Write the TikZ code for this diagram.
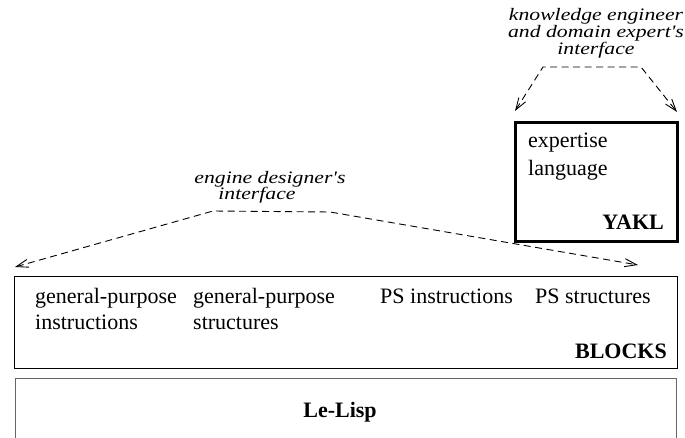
\documentclass[tikz,border=0pt]{standalone}
\usepackage{fontspec}
\setmainfont{Liberation Serif}
\newfontfamily\notefont[FakeStretch=1.24]{Liberation Serif}
\usetikzlibrary{arrows.meta}
\begin{document}
\begin{tikzpicture}[x=1pt,y=-1pt,
  box/.style={draw, line width=1.3pt, inner sep=0pt, anchor=north west},
  txt/.style={inner sep=0pt, anchor=base west, font=\fontsize{22}{26}\selectfont},
  ttl/.style={inner sep=0pt, font=\fontsize{22}{26}\selectfont\bfseries},
  note/.style={inner sep=0pt, font=\notefont\itshape\fontsize{17.5}{15}\selectfont},
  iface/.style={dash pattern=on 7pt off 4.5pt, line width=0.9pt,
    {Straight Barb[length=12pt,width=8pt]}-{Straight Barb[length=12pt,width=8pt]}}]
\useasboundingbox (0,0) rectangle (685,438);

% YAKL layer
\node[box, line width=3pt, minimum width=162pt, minimum height=119pt] (yakl) at (514,121) {};
\node[txt] (exp) at (528,148) {expertise};
\node[txt] (lang) at (528,176) {language};
\node[ttl, anchor=base east] (yaklname) at (664,230) {YAKL};

% BLOCKS layer
\node[box, minimum width=663pt, minimum height=92pt] (blocks) at (14,276) {};
\node[txt] (c1a) at (35,303) {general-purpose};
\node[txt] (c1b) at (35,329) {instructions};
\node[txt] (c2a) at (193,303) {general-purpose};
\node[txt] (c2b) at (193,329) {structures};
\node[txt] (c3a) at (380,303) {PS instructions};
\node[txt] (c4a) at (535,303) {PS structures};
\node[ttl, anchor=base east] (blocksname) at (667,358) {BLOCKS};

% Le-Lisp layer
\node[box, draw=black!60, line width=1pt, minimum width=661pt, minimum height=72pt] (lisp) at (15,378) {};
\node[ttl, anchor=base] (lispname) at (340,417) {Le-Lisp};

% interfaces
\node[note, anchor=north, align=center] (kn) at (596,8)
  {knowledge engineer\\and domain expert's\\interface};
\node[note, anchor=base] (en1) at (270,184) {engine designer's};
\node[note, anchor=base] (en2) at (257,200) {interface};

\coordinate (kn-l) at (515,111);
\coordinate (kn-c1) at (543,67);
\coordinate (kn-c2) at (641,67);
\coordinate (kn-r) at (677,112);
\draw[iface] (kn-l) -- (kn-c1) -- (kn-c2) -- (kn-r);

\coordinate (en-l) at (15,267);
\coordinate (en-c1) at (213,211);
\coordinate (en-c2) at (330,212);
\coordinate (en-r) at (638,265);
\draw[iface] (en-l) -- (en-c1) -- (en-c2) -- (en-r);
\end{tikzpicture}
\end{document}
